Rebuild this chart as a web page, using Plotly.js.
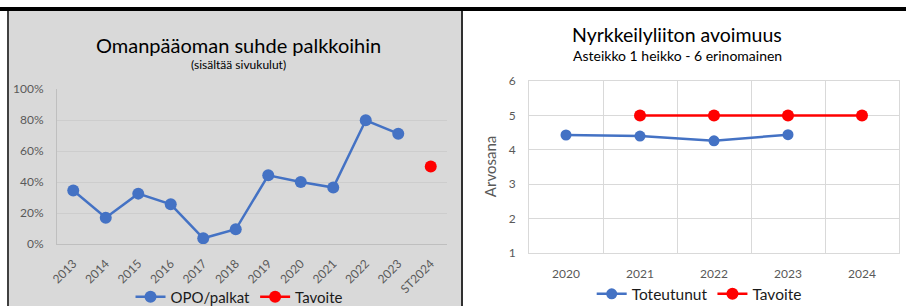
<!DOCTYPE html>
<html>
<head>
<meta charset="utf-8">
<script src="https://cdn.plot.ly/plotly-3.0.1.min.js"></script>
<style>
html,body{margin:0;padding:0;width:906px;height:306px;overflow:hidden;background:#fff;}
#bar{position:absolute;left:0;top:7px;width:906px;height:4px;background:#000;}
#lb{position:absolute;left:7px;top:11px;width:2px;height:295px;background:#404040;}
#mb{position:absolute;left:461px;top:11px;width:2px;height:295px;background:#303030;}
#c1{position:absolute;left:9px;top:11px;width:452px;height:320px;}
#c2{position:absolute;left:463px;top:11px;width:443px;height:320px;}
</style>
</head>
<body>
<div id="c1"></div>
<div id="c2"></div>
<div id="bar"></div>
<div id="lb"></div>
<div id="mb"></div>
<script>
// Left chart data
const years1 = ["2013","2014","2015","2016","2017","2018","2019","2020","2021","2022","2023","ST2024"];
const opoPalkat = [0.345,0.17,0.325,0.256,0.037,0.095,0.443,0.40,0.364,0.798,0.712,null];
const tavoite1 = [null,null,null,null,null,null,null,null,null,null,null,0.50];

// Right chart data
const years2 = ["2020","2021","2022","2023","2024"];
const toteutunut = [4.43,4.40,4.26,4.44,null];
const tavoite2 = [null,5,5,5,5];

const FONT = "Lato, 'Open Sans', sans-serif";
const GRAY = "#595959";
const BLUE = "#4472c4";
const RED = "#ff0000";

Plotly.newPlot("c1", [
  {x: years1, y: opoPalkat, name: "OPO/palkat", type: "scatter", mode: "lines+markers",
   line: {color: BLUE, width: 2.5}, marker: {color: BLUE, size: 12}},
  {x: years1, y: tavoite1, name: "Tavoite", type: "scatter", mode: "lines+markers",
   line: {color: RED, width: 2.5}, marker: {color: RED, size: 12}}
], {
  width: 452, height: 320,
  margin: {l: 48, r: 14, t: 78, b: 87},
  paper_bgcolor: "#d9d9d9", plot_bgcolor: "#d9d9d9",
  font: {family: FONT, color: GRAY},
  showlegend: true,
  legend: {orientation: "h", x: 0.468, xanchor: "center", y: -0.342, yanchor: "middle",
           font: {size: 15, color: "#1a1a1a"}, bgcolor: "rgba(0,0,0,0)"},
  xaxis: {type: "category", showgrid: false, zeroline: false, showline: true, linecolor: "#bfbfbf",
          tickangle: -45, tickfont: {size: 12, color: GRAY}, ticks: "", ticklabelstandoff: 7,
          range: [-0.5, 11.5], fixedrange: true},
  yaxis: {range: [0, 1], tickvals: [0,0.2,0.4,0.6,0.8,1], tickformat: ".0%", showgrid: true,
          gridcolor: "#cdcdcd", zeroline: false, showline: true, linecolor: "#bfbfbf",
          tickfont: {size: 12, color: GRAY}, ticks: "", ticklabelstandoff: 10},
  annotations: [
    {text: "Omanpääoman suhde palkkoihin", xref: "paper", yref: "paper", x: 0.465, y: 1.282,
     xanchor: "center", yanchor: "middle", showarrow: false, font: {size: 20, color: "#000"}},
    {text: "(sisältää sivukulut)", xref: "paper", yref: "paper", x: 0.465, y: 1.159,
     xanchor: "center", yanchor: "middle", showarrow: false, font: {size: 12, color: "#000"}}
  ]
}, {staticPlot: true});

Plotly.newPlot("c2", [
  {x: years2, y: toteutunut, name: "Toteutunut", type: "scatter", mode: "lines+markers",
   line: {color: BLUE, width: 2.5}, marker: {color: BLUE, size: 11}},
  {x: years2, y: tavoite2, name: "Tavoite", type: "scatter", mode: "lines+markers",
   line: {color: RED, width: 2.5}, marker: {color: RED, size: 12}}
], {
  width: 443, height: 320,
  margin: {l: 66, r: 7, t: 70, b: 78},
  paper_bgcolor: "#fff", plot_bgcolor: "#fff",
  font: {family: FONT, color: GRAY},
  showlegend: true,
  legend: {orientation: "h", x: 0.46, xanchor: "center", y: -0.24, yanchor: "middle",
           font: {size: 15.5, color: "#1a1a1a"}, bgcolor: "rgba(0,0,0,0)"},
  xaxis: {type: "category", showgrid: true, gridcolor: "#d9d9d9", tickson: "boundaries",
          zeroline: false, showline: true, linecolor: "#d9d9d9", mirror: true,
          tickfont: {size: 12, color: GRAY}, ticks: "", ticklabelstandoff: 10,
          range: [-0.5, 4.5]},
  yaxis: {range: [1, 6], dtick: 1, showgrid: true, gridcolor: "#d9d9d9", zeroline: false,
          showline: true, linecolor: "#d9d9d9", mirror: true,
          tickfont: {size: 12, color: GRAY}, ticks: "", ticklabelstandoff: 10},
  annotations: [
    {text: "Nyrkkeilyliiton avoimuus", xref: "paper", yref: "paper", x: 0.4, y: 1.268,
     xanchor: "center", yanchor: "middle", showarrow: false, font: {size: 19.5, color: "#000"}},
    {text: "Asteikko 1 heikko - 6 erinomainen", xref: "paper", yref: "paper", x: 0.4, y: 1.146,
     xanchor: "center", yanchor: "middle", showarrow: false, font: {size: 14, color: "#000"}},
    {text: "Arvosana", xref: "paper", yref: "paper", x: -0.105, y: 0.5, textangle: -90,
     xanchor: "center", yanchor: "middle", showarrow: false, font: {size: 15, color: GRAY}}
  ]
}, {staticPlot: true});
</script>
</body>
</html>
